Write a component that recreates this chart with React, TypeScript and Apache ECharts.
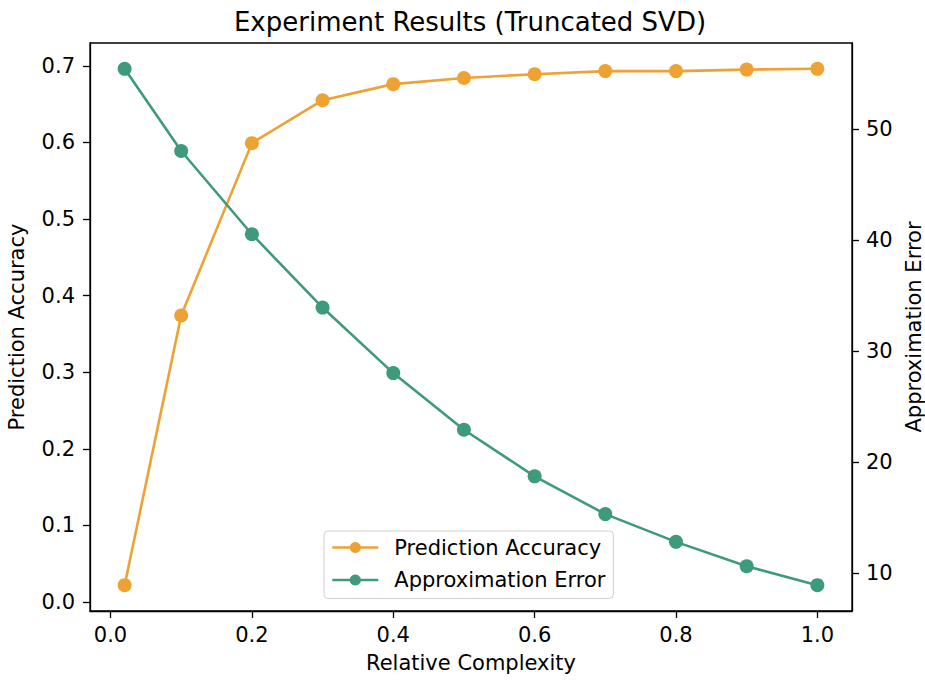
import React, { useEffect, useRef } from "react";
import * as echarts from "echarts";

const xValues = [0.02, 0.1, 0.2, 0.3, 0.4, 0.5, 0.6, 0.7, 0.8, 0.9, 1.0];
const accuracy = [0.022, 0.374, 0.599, 0.655, 0.676, 0.684, 0.689, 0.693, 0.693, 0.695, 0.696];
const approxError = [55.4, 48.0, 40.5, 33.9, 28.0, 22.9, 18.7, 15.3, 12.8, 10.6, 8.9];
const xTicks = [0, 0.2, 0.4, 0.6, 0.8, 1.0];
const accTicks = [0, 0.1, 0.2, 0.3, 0.4, 0.5, 0.6, 0.7];
const errTicks = [10, 20, 30, 40, 50];

const ORANGE = "#EDA233";
const GREEN = "#3D9A7B";
const FONT = "DejaVu Sans";
const FS = 21;

function padded(arr: number[]): [number, number] {
  const lo = Math.min(...arr);
  const hi = Math.max(...arr);
  const m = (hi - lo) * 0.05;
  return [lo - m, hi + m];
}

export default function App() {
  const ref = useRef<HTMLDivElement>(null);
  useEffect(() => {
    if (!ref.current) return;
    const chart = echarts.init(ref.current, null, { renderer: "svg" });
    const [xMin, xMax] = padded(xValues);
    const [aMin, aMax] = padded(accuracy);
    const [eMin, eMax] = padded(approxError);
    const axisLine = { show: true, onZero: false, lineStyle: { color: "#000", width: 1.3 } };
    const tickStyle = { color: "#000", width: 1.3 };
    const labelStyle = { fontFamily: FONT, fontSize: FS, color: "#000" };
    chart.setOption({
      animation: false,
      backgroundColor: "#fff",
      title: {
        text: "Experiment Results (Truncated SVD)",
        left: 470,
        textAlign: "center",
        top: 9,
        padding: 0,
        textStyle: { fontFamily: FONT, fontSize: 26, fontWeight: "normal", color: "#000" },
      },
      grid: {
        left: 90,
        right: 73,
        top: 43,
        bottom: 69,
        containLabel: false,
        outerBoundsMode: "none",
        show: true,
        borderColor: "#000",
        borderWidth: 1.3,
        backgroundColor: "transparent",
      },
      legend: {
        orient: "vertical",
        left: 324,
        top: 531,
        padding: [6, 8, 8, 7],
        itemWidth: 46,
        itemHeight: 14,
        itemGap: 11.5,
        backgroundColor: "rgba(255,255,255,0.8)",
        borderColor: "#d0d0d0",
        borderWidth: 1,
        borderRadius: 4,
        lineStyle: { width: 2.6 },
        textStyle: {
          ...labelStyle,
          lineHeight: 21,
          padding: [0, 0, 0, 11],
        },
        data: ["Prediction Accuracy", "Approximation Error"],
      },
      xAxis: {
        type: "value",
        min: xMin,
        max: xMax,
        name: "Relative Complexity",
        nameLocation: "middle",
        nameGap: 41,
        nameTextStyle: labelStyle,
        axisLine,
        splitLine: { show: false },
        axisTick: { show: true, length: 7, lineStyle: tickStyle, customValues: xTicks },
        axisLabel: {
          ...labelStyle,
          margin: 13,
          customValues: xTicks,
          formatter: (v: number) => v.toFixed(1),
        },
      },
      yAxis: [
        {
          type: "value",
          position: "left",
          min: aMin,
          max: aMax,
          name: "Prediction Accuracy",
          nameLocation: "middle",
          nameRotate: 90,
          nameGap: 63,
          nameTextStyle: labelStyle,
          axisLine,
          splitLine: { show: false },
          axisTick: { show: true, length: 7, lineStyle: tickStyle, customValues: accTicks },
          axisLabel: {
            ...labelStyle,
            margin: 15,
            customValues: accTicks,
            formatter: (v: number) => v.toFixed(1),
          },
        },
        {
          type: "value",
          position: "right",
          min: eMin,
          max: eMax,
          name: "Approximation Error",
          nameLocation: "middle",
          nameRotate: 90,
          nameGap: 43,
          nameTextStyle: labelStyle,
          axisLine,
          splitLine: { show: false },
          axisTick: { show: true, length: 7, lineStyle: tickStyle, customValues: errTicks },
          axisLabel: {
            ...labelStyle,
            margin: 14,
            customValues: errTicks,
            formatter: (v: number) => String(Math.round(v)),
          },
        },
      ],
      series: [
        {
          name: "Prediction Accuracy",
          type: "line",
          yAxisIndex: 0,
          data: xValues.map((x, i) => [x, accuracy[i]]),
          symbol: "circle",
          symbolSize: 14,
          color: ORANGE,
          lineStyle: { color: ORANGE, width: 2.6 },
          itemStyle: { color: ORANGE },
          z: 2,
        },
        {
          name: "Approximation Error",
          type: "line",
          yAxisIndex: 1,
          data: xValues.map((x, i) => [x, approxError[i]]),
          symbol: "circle",
          symbolSize: 14,
          color: GREEN,
          lineStyle: { color: GREEN, width: 2.6 },
          itemStyle: { color: GREEN },
          z: 3,
        },
      ],
    });
    return () => chart.dispose();
  }, []);
  return (
    <div
      ref={ref}
      style={{ position: "absolute", left: 0, top: 0, width: 925, height: 680, background: "#fff" }}
    />
  );
}
